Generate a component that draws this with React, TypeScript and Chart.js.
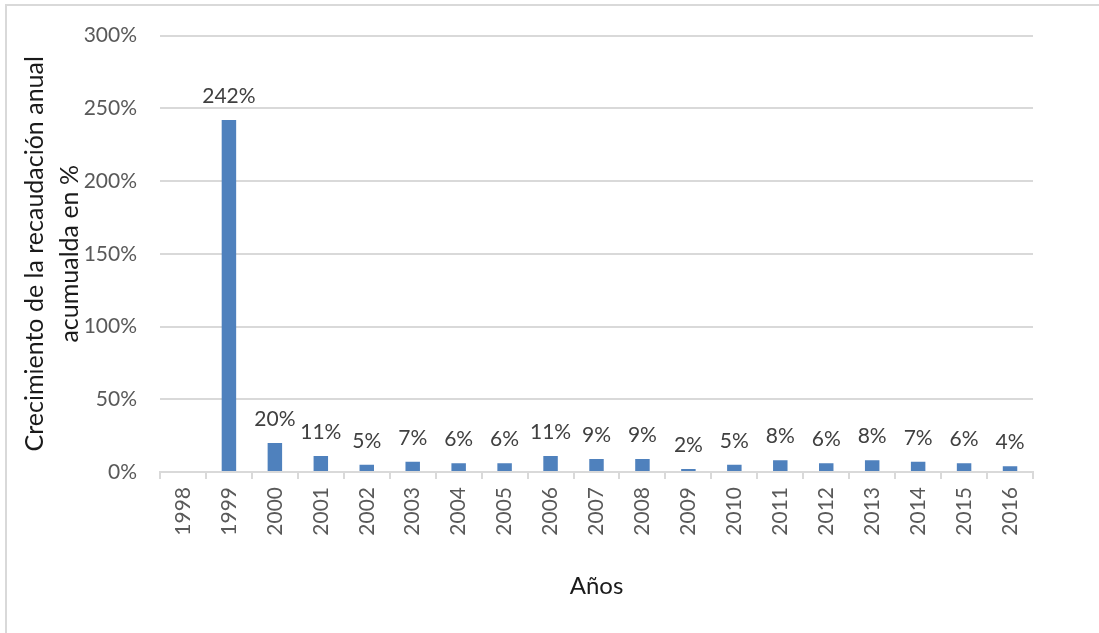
import React, { useEffect, useRef } from "react";
import { Chart, registerables } from "chart.js";

Chart.register(...registerables);

// Years on the category axis
const years: string[] = [
  "1998", "1999", "2000", "2001", "2002", "2003", "2004", "2005", "2006", "2007",
  "2008", "2009", "2010", "2011", "2012", "2013", "2014", "2015", "2016",
];

// Annual growth of accumulated revenue, in percent (1998 has no value)
const growth: (number | null)[] = [
  null, 242, 20, 11, 5, 7, 6, 6, 11, 9, 9, 2, 5, 8, 6, 8, 7, 6, 4,
];

const yTitleLines: string[] = [
  "Crecimiento de la recaudación anual",
  "acumualda en %",
];
const xTitle = "Años";

const FONT = "Lato, 'Open Sans', sans-serif";
const GRID = "#d9d9d9";
const BAR = "#4f81bd";

// Writes each bar's value above it
const valueLabels = {
  id: "valueLabels",
  afterDatasetsDraw(chart: Chart) {
    const { ctx } = chart;
    const meta = chart.getDatasetMeta(0);
    ctx.save();
    ctx.font = `21px ${FONT}`;
    ctx.fillStyle = "#404040";
    ctx.textAlign = "center";
    ctx.textBaseline = "alphabetic";
    meta.data.forEach((el: any, i: number) => {
      const v = growth[i];
      if (v === null || v === undefined) return;
      ctx.fillText(`${v}%`, el.x, el.y - 17);
    });
    ctx.restore();
  },
};

export default function App() {
  const ref = useRef<HTMLCanvasElement | null>(null);

  useEffect(() => {
    if (!ref.current) return;
    const chart = new Chart(ref.current, {
      type: "bar",
      data: {
        labels: years,
        datasets: [
          {
            data: growth,
            backgroundColor: BAR,
            borderWidth: 0,
            categoryPercentage: 1,
            barPercentage: 0.315,
          },
        ],
      },
      plugins: [valueLabels],
      options: {
        animation: false,
        responsive: false,
        maintainAspectRatio: false,
        devicePixelRatio: 1,
        layout: { padding: { left: 0, right: 66, top: 34, bottom: 0 } },
        plugins: {
          legend: { display: false },
          tooltip: { enabled: false },
        },
        scales: {
          x: {
            offset: true,
            grid: {
              display: true,
              offset: true,
              drawOnChartArea: false,
              drawTicks: true,
              tickLength: 7,
              color: GRID,
              lineWidth: 2,
            },
            border: { display: true, color: GRID, width: 2 },
            ticks: {
              color: "#595959",
              font: { family: FONT, size: 21 },
              minRotation: 90,
              maxRotation: 90,
              padding: 8,
              autoSkip: false,
            },
            title: {
              display: true,
              text: xTitle,
              color: "#1a1a1a",
              font: { family: FONT, size: 24, lineHeight: 1.2 },
              padding: { top: 0, bottom: 32.6 },
            },
            afterFit(scale: any) {
              scale.height = 161;
            },
          },
          y: {
            min: 0,
            max: 300,
            grid: {
              color: GRID,
              lineWidth: 2,
              drawTicks: false,
            },
            border: { display: false },
            ticks: {
              stepSize: 50,
              color: "#595959",
              font: { family: FONT, size: 21 },
              padding: 23,
              callback: (v: any) => `${v}%`,
            },
            title: {
              display: true,
              text: yTitleLines,
              color: "#1a1a1a",
              font: { family: FONT, size: 25, lineHeight: 1.4 },
              padding: { top: 17, bottom: 0 },
            },
            afterFit(scale: any) {
              scale.width = 160;
            },
          },
        },
      },
    });
    return () => chart.destroy();
  }, []);

  return (
    <div
      style={{
        position: "fixed",
        left: 0,
        top: 0,
        width: 1099,
        height: 633,
        background: "#ffffff",
        overflow: "hidden",
      }}
    >
      <div
        style={{
          position: "absolute",
          left: 5,
          top: 4,
          width: 1094,
          height: 629,
          boxSizing: "border-box",
          borderTop: `2px solid ${GRID}`,
          borderLeft: `2px solid ${GRID}`,
        }}
      />
      <canvas
        ref={ref}
        width={1099}
        height={633}
        style={{ position: "absolute", left: 0, top: 0, width: 1099, height: 633 }}
      />
    </div>
  );
}
